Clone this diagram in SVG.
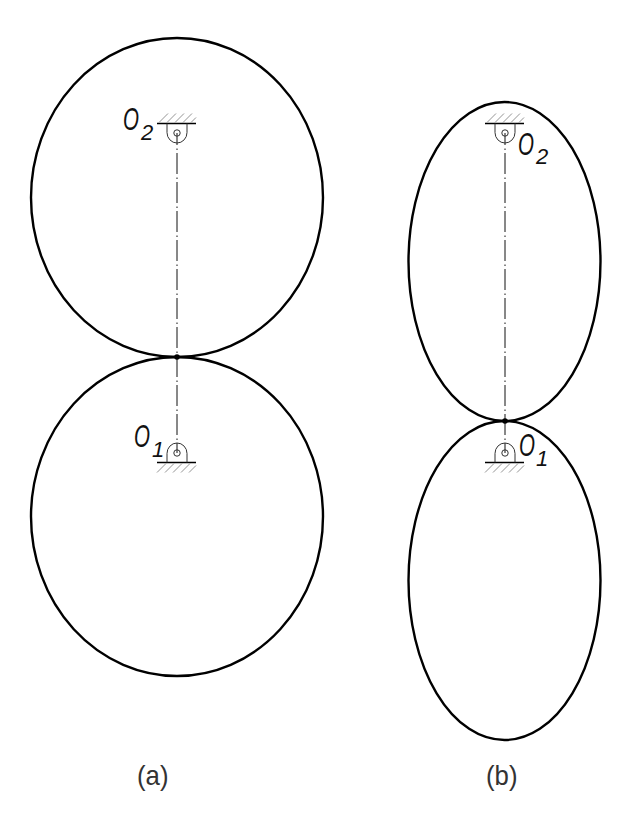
<svg xmlns="http://www.w3.org/2000/svg" width="622" height="835" viewBox="0 0 622 835">
<style>
.o{fill:none;stroke:#000;stroke-width:2.4}
.c{fill:none;stroke:#111;stroke-width:1;stroke-dasharray:21 3.500 1.500 3;stroke-dashoffset:9}
.g{fill:none;stroke:#333;stroke-width:1}
.b{fill:none;stroke:#000;stroke-width:1.600}
.h{fill:none;stroke:#888;stroke-width:.9}
.t{font-family:"Liberation Sans",sans-serif;font-style:italic;fill:#111}
.big{font-size:32px}
.sub{font-size:22px}
.l{font-family:"Liberation Sans",sans-serif;font-size:28px;fill:#333}
</style>
<defs>
<g id="down"><path class="b" d="M-20 0H19"/><path class="h" d="M-18 -1l9 -9M-10 -1l9 -9M-2 -1l9 -9M6 -1l9 -9M14 -1l5 -5"/><path class="g" d="M-10 0V9a10 10.500 0 0 0 20 0V0"/><circle class="g" cx="0" cy="9.500" r="3.200"/></g>
<g id="up"><path class="b" d="M-20 0H19"/><path class="h" d="M-20 10l9 -9M-12 10l9 -9M-4 10l9 -9M4 10l9 -9M12 10l7 -7"/><path class="g" d="M-10 0V-9a10 10.500 0 0 1 20 0V0"/><circle class="g" cx="0" cy="-9.500" r="3.200"/></g>
</defs>
<g id="connectors">
<path class="c" d="M177 133V453"/>
<path class="c" d="M505 133V453"/>
</g>
<g id="gear-a-upper"><ellipse class="o" cx="177" cy="197.500" rx="146" ry="159.500"/></g>
<g id="gear-a-lower"><ellipse class="o" cx="177" cy="516.500" rx="146" ry="159.500"/></g>
<g id="gear-b-upper"><ellipse class="o" cx="504.500" cy="261.500" rx="96" ry="159.500"/></g>
<g id="gear-b-lower"><ellipse class="o" cx="504.500" cy="580.500" rx="96" ry="159.500"/></g>
<g id="contact-a"><circle cx="177" cy="357" r="2.800"/></g>
<g id="contact-b"><circle cx="505" cy="421" r="2.800"/></g>
<g id="pivot-a-o2"><use href="#down" x="177" y="123.500"/><text class="t big" transform="translate(123 130) scale(.64 1)">O</text><text class="t sub" x="141" y="140">2</text></g>
<g id="pivot-a-o1"><use href="#up" x="177" y="462.500"/><text class="t big" transform="translate(134 447) scale(.64 1)">O</text><text class="t sub" x="152" y="457">1</text></g>
<g id="pivot-b-o2"><use href="#down" x="505" y="123.500"/><text class="t big" transform="translate(518 155) scale(.64 1)">O</text><text class="t sub" x="536" y="164">2</text></g>
<g id="pivot-b-o1"><use href="#up" x="505" y="462.500"/><text class="t big" transform="translate(519 456) scale(.64 1)">O</text><text class="t sub" x="536" y="466">1</text></g>
<g id="label-a"><text class="l" transform="translate(137 785) scale(.92 1)">(a)</text></g>
<g id="label-b"><text class="l" transform="translate(486 785) scale(.92 1)">(b)</text></g>
</svg>
